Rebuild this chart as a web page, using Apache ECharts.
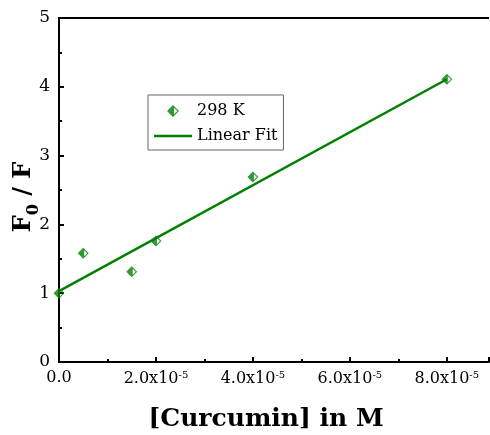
<!DOCTYPE html>
<html lang="en">
<head>
    <meta charset="UTF-8">
    <title>Curcumin Stern-Volmer</title>
    <style>
        *{
            padding: 0;
            margin: 0;
        }
        .EC{
            width: 490px;
            height: 435px;
        }
    </style>
</head>
<body>
<div class="EC"></div>
<script src="https://cdn.jsdelivr.net/npm/echarts@6/dist/echarts.min.js"></script>
<script>
    // data
    const concX = [0, 0.5e-5, 1.5e-5, 2e-5, 4e-5, 8e-5]
    const ratioY = [1.0, 1.58, 1.31, 1.76, 2.69, 4.11]
    const fitX = [0, 8e-5]
    const fitY = [1.03, 4.11]
    const seriesNames = ['298 K', 'Linear Fit']

    const green = '#008000'
    const font = 'DejaVu Serif'
    // half filled diamond (left filled, right hollow)
    const halfDiamond = 'path://M5,0 L10,5 L5,10 L0,5 Z M5.9,2.3 L5.9,7.7 L8.6,5 Z'
    const lineIcon = 'path://M0,0 L40,0 L40,2.5 L0,2.5 Z'

    window.onload = () => {
        let EC = echarts.init(document.querySelector('.EC'))
        let option = {
            backgroundColor: '#fff',
            animation: false,
            grid: {
                left: 59,
                top: 18,
                right: 1,
                bottom: 73,
                outerBoundsMode: 'none'
            },
            legend: {
                orient: 'vertical',
                left: 148,
                top: 95,
                padding: [8, 6, 6, 6],
                itemGap: 9,
                itemWidth: 38,
                itemHeight: 12,
                borderColor: '#666',
                borderWidth: 1,
                textStyle: {
                    fontFamily: font,
                    fontSize: 16,
                    color: '#000'
                },
                data: [
                    { name: seriesNames[0], icon: halfDiamond },
                    { name: seriesNames[1], icon: lineIcon }
                ]
            },
            xAxis: {
                type: 'value',
                min: 0,
                max: 8.87e-5,
                interval: 2e-5,
                name: '[Curcumin] in M',
                nameLocation: 'middle',
                nameGap: 45,
                nameMoveOverlap: false,
                nameTextStyle: {
                    fontFamily: font,
                    fontWeight: 'bold',
                    fontSize: 25,
                    color: '#000',
                    padding: [0, 16, 0, 0]
                },
                axisLine: { lineStyle: { color: '#000', width: 2 } },
                axisTick: { inside: true, length: 5, lineStyle: { width: 2, color: '#000' } },
                minorTick: { show: true, splitNumber: 2, length: 3, lineStyle: { width: 2, color: '#000' } },
                splitLine: { show: false },
                axisLabel: {
                    margin: 8,
                    showMaxLabel: false,
                    formatter: v => {
                        if (v === 0) return '{a|0.0}'
                        return '{a|' + (v / 1e-5).toFixed(1) + 'x10}{s|-5}'
                    },
                    rich: {
                        a: { fontFamily: font, fontSize: 16, color: '#000' },
                        s: { fontFamily: font, fontSize: 10, color: '#000', verticalAlign: 'top', padding: [0, 0, 8, 0] }
                    }
                }
            },
            yAxis: {
                type: 'value',
                min: 0,
                max: 5,
                interval: 1,
                name: '{b|F}{s|0}{b| / F}',
                nameLocation: 'middle',
                nameGap: 17,
                nameRotate: 90,
                nameMoveOverlap: false,
                nameTextStyle: {
                    padding: [0, 14, 0, 0],
                    rich: {
                        b: { fontFamily: font, fontWeight: 'bold', fontSize: 24, color: '#000', lineHeight: 30, verticalAlign: 'top' },
                        s: { fontFamily: font, fontWeight: 'bold', fontSize: 16, color: '#000', verticalAlign: 'bottom', lineHeight: 30 }
                    }
                },
                axisLine: { show: true, lineStyle: { color: '#000', width: 2 } },
                axisTick: { show: true, inside: true, length: 5, lineStyle: { width: 2, color: '#000' } },
                minorTick: { show: true, splitNumber: 2, length: 3, lineStyle: { width: 2, color: '#000' } },
                splitLine: { show: false },
                axisLabel: {
                    margin: 9,
                    fontFamily: font,
                    fontSize: 17,
                    color: '#000'
                }
            },
            series: [{
                name: seriesNames[0],
                type: 'scatter',
                symbol: halfDiamond,
                symbolSize: 11,
                z: 3,
                itemStyle: { color: green },
                data: concX.map((x, i) => [x, ratioY[i]])
            }, {
                name: seriesNames[1],
                type: 'line',
                symbol: 'none',
                z: 2,
                lineStyle: { color: green, width: 2.5 },
                itemStyle: { color: green },
                data: fitX.map((x, i) => [x, fitY[i]])
            }],
            graphic: [{
                // top frame line
                type: 'line',
                shape: { x1: 58, y1: 18, x2: 489, y2: 18 },
                style: { stroke: '#000', lineWidth: 2 }
            }]
        }
        EC.setOption(option)
    }
</script>
</body>
</html>
